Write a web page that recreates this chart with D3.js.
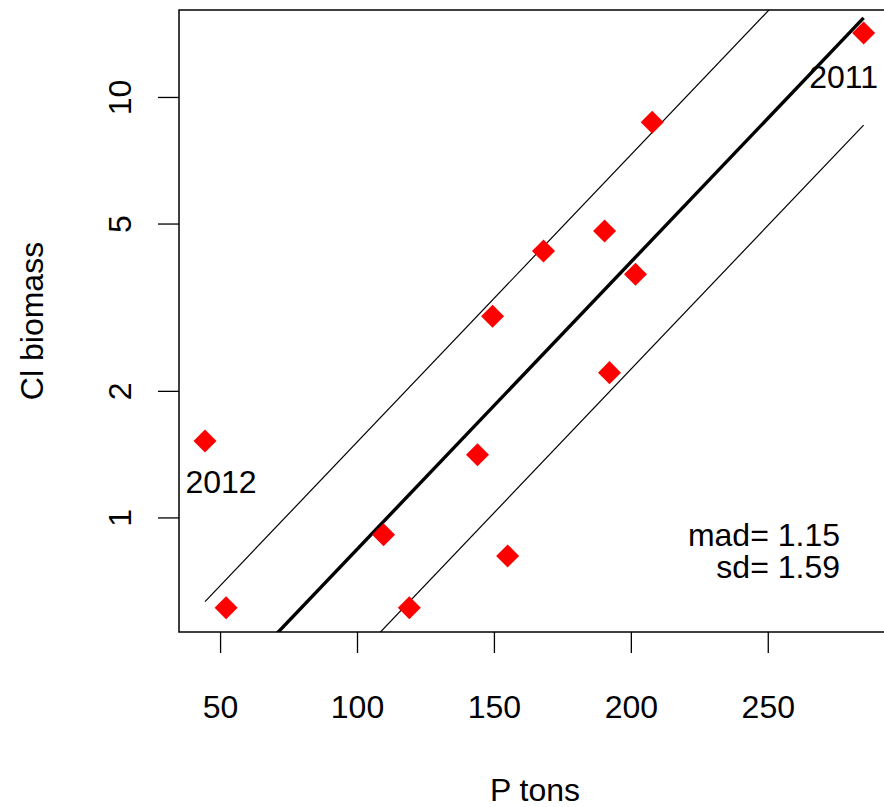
<!DOCTYPE html>
<html>
<head>
<meta charset="utf-8">
<script src="https://cdn.jsdelivr.net/npm/d3@7"></script>
<style>
  body { margin: 0; background: #fff; }
  text { font-family: "Liberation Sans", Arial, sans-serif; fill: #000; }
</style>
</head>
<body>
<div id="chart"></div>
<script>
// P tons vs Cl biomass, log y axis
var pTons = [44.5, 52.2, 109.7, 119.1, 144.0, 149.5, 155.0, 168.1, 190.4, 192.2, 201.7, 207.8, 285.0];
var clBiomass = [1.52, 0.61, 0.91, 0.61, 1.41, 3.01, 0.81, 4.30, 4.80, 2.21, 3.79, 8.71, 14.2];
var yearLabels = [{ i: 0, text: "2012" }, { i: 12, text: "2011" }];

var xTicks = [50, 100, 150, 200, 250];
var yTicks = [1, 2, 5, 10];

// log10(Cl) = fitA + fitB * P, band = +/- fitBand
var fitA = -0.7593;
var fitB = 0.006833;
var fitBand = 0.255;

var statLines = ["mad= 1.15", "sd= 1.59"];

var svgWidth = 884;
var svgHeight = 807;
var fontSize = "32px";

var plot = { left: 179, top: 10, right: 891, bottom: 632 };

var svg = d3.select("#chart")
  .append("svg")
  .attr("width", svgWidth)
  .attr("height", svgHeight)
  .style("background", "#fff");

var xScale = d3.scaleLinear()
  .domain([35, 295])
  .range([plot.left, plot.right]);

var yScale = d3.scaleLog()
  .domain([0.534, 16.1])
  .range([plot.bottom, plot.top]);

svg.append("clipPath")
  .attr("id", "plotClip")
  .append("rect")
  .attr("x", plot.left)
  .attr("y", plot.top)
  .attr("width", plot.right - plot.left)
  .attr("height", plot.bottom - plot.top);

// axes
var xAxis = svg.append("g")
  .attr("transform", `translate(0, ${plot.bottom})`)
  .call(d3.axisBottom(xScale).tickValues(xTicks).tickSize(21).tickPadding(42));
xAxis.select(".domain").remove();
xAxis.selectAll("line").attr("stroke", "#000").attr("stroke-width", 1.3);
xAxis.selectAll("text")
  .attr("font-size", fontSize)
  .attr("font-family", "Liberation Sans, Arial, sans-serif")
  .attr("fill", "#000");

var yAxis = svg.append("g")
  .attr("transform", `translate(${plot.left}, 0)`)
  .call(d3.axisLeft(yScale).tickValues(yTicks).tickFormat(d3.format("d")).tickSize(21));
yAxis.select(".domain").remove();
yAxis.selectAll("line").attr("stroke", "#000").attr("stroke-width", 1.3);
yAxis.selectAll("text")
  .attr("x", null)
  .attr("dy", null)
  .attr("transform", "translate(-48, 0) rotate(-90)")
  .attr("text-anchor", "middle")
  .attr("font-size", fontSize)
  .attr("font-family", "Liberation Sans, Arial, sans-serif")
  .attr("fill", "#000");

// fit line and bands
var xExtent = d3.extent(pTons);
var fitLine = d3.line()
  .x(d => xScale(d[0]))
  .y(d => yScale(Math.pow(10, d[1])));

[[0, 3.4], [fitBand, 1.2], [-fitBand, 1.2]].forEach(function (b) {
  svg.append("path")
    .datum(xExtent.map(x => [x, fitA + fitB * x + b[0]]))
    .attr("d", fitLine)
    .attr("fill", "none")
    .attr("stroke", "#000")
    .attr("stroke-width", b[1])
    .attr("clip-path", "url(#plotClip)");
});

// points
svg.append("g")
  .selectAll("path")
  .data(pTons)
  .join("path")
  .attr("d", d3.symbol(d3.symbolSquare, 265))
  .attr("transform", (d, i) => `translate(${xScale(d)}, ${yScale(clBiomass[i])}) rotate(45)`)
  .attr("fill", "#ff0000");

// year labels
svg.append("g")
  .selectAll("text")
  .data(yearLabels)
  .join("text")
  .attr("x", d => xScale(pTons[d.i]) + (d.i === 0 ? 16 : -20))
  .attr("y", d => yScale(clBiomass[d.i]) + (d.i === 0 ? 52 : 55))
  .attr("text-anchor", "middle")
  .attr("font-size", fontSize)
  .text(d => d.text);

// stats text
svg.append("g")
  .selectAll("text")
  .data(statLines)
  .join("text")
  .attr("x", 840)
  .attr("y", (d, i) => 546 + i * 32)
  .attr("text-anchor", "end")
  .attr("font-size", fontSize)
  .text(d => d);

// plot box
svg.append("rect")
  .attr("x", plot.left)
  .attr("y", plot.top)
  .attr("width", plot.right - plot.left)
  .attr("height", plot.bottom - plot.top)
  .attr("fill", "none")
  .attr("stroke", "#000")
  .attr("stroke-width", 1.5);

// axis titles
svg.append("text")
  .attr("x", (plot.left + plot.right) / 2)
  .attr("y", 801)
  .attr("text-anchor", "middle")
  .attr("font-size", fontSize)
  .text("P tons");

svg.append("text")
  .attr("transform", `translate(43, ${(plot.top + plot.bottom) / 2}) rotate(-90)`)
  .attr("text-anchor", "middle")
  .attr("font-size", fontSize)
  .text("Cl biomass");
</script>
</body>
</html>
